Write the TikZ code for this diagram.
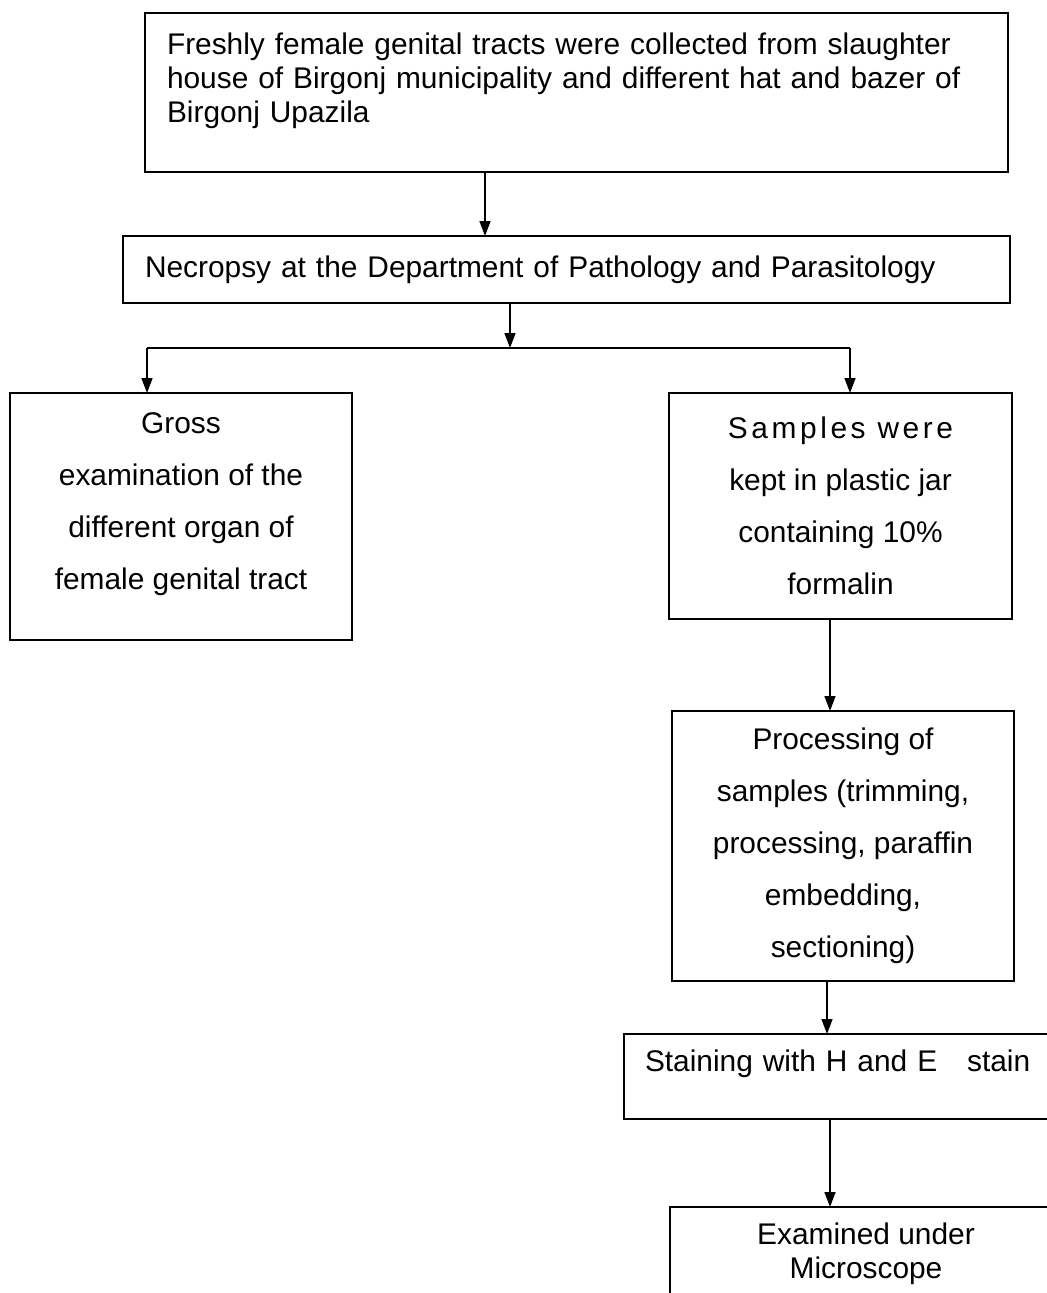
\documentclass[tikz,border=0pt]{standalone}
\usepackage{fontspec}
\setmainfont{Liberation Sans}
\usetikzlibrary{shapes,arrows.meta,calc}

\begin{document}
\begin{tikzpicture}

\tikzstyle{box} = [draw=black, line width=1.1pt, inner sep=0, outer sep=0,
    font=\fontsize{17}{19.4}\selectfont]
\tikzstyle{tall} = [font=\fontsize{17}{29.6}\selectfont, align=center]
\tikzstyle{link} = [draw=black, line width=0.85pt, -{Triangle[length=0.3cm,width=0.22cm]}]

\useasboundingbox (0,0) rectangle (20.94,-25.86);

% =========================
% collection and necropsy
% =========================
\node[box, minimum width=17.26cm, minimum height=3.18cm,
    text width=16.38cm, align=left] (collect) at (11.53,-1.85)
    {Freshly female genital tracts were collected from slaughter\\
     house of Birgonj municipality and different hat and bazer of\\
     Birgonj Upazila\\[-0.28cm]\strut};

\node[box, minimum width=17.74cm, minimum height=1.34cm,
    text width=16.86cm, align=left] (necropsy) at (11.33,-5.39)
    {Necropsy at the Department of Pathology and Parasitology};

\draw[link] ([xshift=-1.83cm]collect.south) -- ([xshift=-1.83cm]collect.south |- necropsy.north);

% =========================
% two branches
% =========================
\coordinate (split) at (10.2,-6.96);
\coordinate (branchL) at (2.94,-6.96);
\coordinate (branchR) at (17.0,-6.96);

\node[box, minimum width=6.84cm, minimum height=4.94cm] (gross) at (3.62,-10.33) {};
\node[tall] (grosstxt) at (3.62,-10.09)
    {Gross\\examination of the\\different organ of\\female genital tract};

\node[box, tall, minimum width=6.86cm, minimum height=4.52cm] (samples) at (16.81,-10.12)
    {{\addfontfeature{LetterSpace=12}Samples were}\\kept in plastic jar\\containing 10\%\\formalin};

\draw[link] (necropsy.south -| split) -- (split);
\draw[line width=0.85pt] (branchL) -- (branchR);
\draw[link] (branchL) -- (branchL |- gross.north);
\draw[link] (branchR) -- (branchR |- samples.north);

% =========================
% histopathology steps
% =========================
\node[box, tall, minimum width=6.84cm, minimum height=5.4cm] (process) at (16.86,-16.92)
    {Processing of\\samples (trimming,\\processing, paraffin\\embedding,\\sectioning)};

\node[box, minimum width=8.72cm, minimum height=1.7cm,
    text width=7.88cm, align=left] (stain) at (16.84,-21.53)
    {Staining with H and E\hspace{1em}stain\\[-0.24cm]\strut};

\node[box, align=center, minimum width=7.84cm, minimum height=1.88cm] (examine) at (17.32,-25.08)
    {Examined under\\Microscope};

\draw[link] ([xshift=-0.21cm]samples.south) -- ([xshift=-0.21cm]samples.south |- process.north);
\draw[link] ([xshift=-0.32cm]process.south) -- ([xshift=-0.32cm]process.south |- stain.north);
\draw[link] ([xshift=-0.24cm]stain.south) -- ([xshift=-0.24cm]stain.south |- examine.north);

\end{tikzpicture}
\end{document}
